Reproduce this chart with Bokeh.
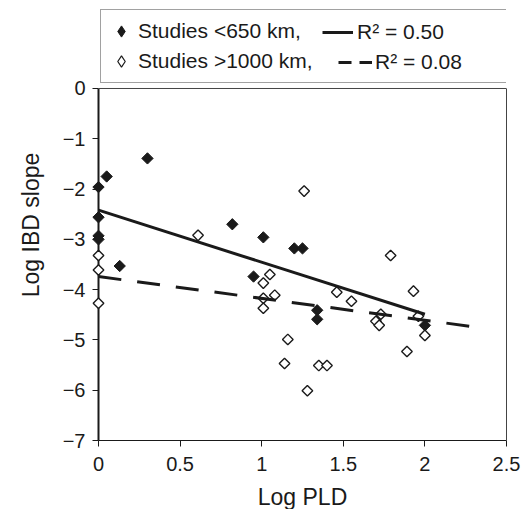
import math
from bokeh.plotting import figure
from bokeh.models import (Range1d, FixedTicker, Legend, LegendItem, ColumnDataSource,
                          LinearAxis, Span)
from bokeh.embed import file_html
from bokeh.resources import INLINE

# ---- data ----
x_ticks = [0, 0.5, 1, 1.5, 2, 2.5]
x_tick_labels = ["0", "0.5", "1", "1.5", "2", "2.5"]
y_ticks = [-7, -6, -5, -4, -3, -2, -1, 0]
y_tick_labels = ["\u22127", "\u22126", "\u22125", "\u22124", "\u22123", "\u22122", "\u22121", "0"]

# Studies <650 km (filled diamonds)
near_x = [0.0, 0.05, 0.0, 0.0, 0.0, 0.13, 0.30, 0.82, 1.01, 1.20, 1.25, 0.95, 1.34, 1.34, 2.00]
near_y = [-1.96, -1.75, -2.56, -2.93, -3.00, -3.53, -1.39, -2.70, -2.96, -3.18, -3.18, -3.74, -4.41, -4.59, -4.71]

# Studies >1000 km (open diamonds)
far_x = [0.0, 0.0, 0.0, 0.61, 1.26, 1.05, 1.01, 1.08, 1.01, 1.01, 1.16, 1.14, 1.35, 1.40, 1.28,
         1.46, 1.55, 1.79, 1.93, 1.73, 1.70, 1.72, 1.96, 2.00, 1.89]
far_y = [-3.32, -3.61, -4.27, -2.92, -2.04, -3.70, -3.87, -4.11, -4.17, -4.37, -4.99, -5.47, -5.51, -5.51, -6.01,
         -4.05, -4.23, -3.32, -4.03, -4.49, -4.63, -4.71, -4.53, -4.91, -5.23]

# regression lines (end points)
fit_near_x = [0.0, 2.0]
fit_near_y = [-2.42, -4.49]
fit_far_x = [0.0, 2.28]
fit_far_y = [-3.74, -4.73]

legend_labels = ["Studies <650 km,", "Studies >1000 km,", "R\u00b2 = 0.50", "R\u00b2 = 0.08"]

FONT = "Liberation Sans"
INK = "#1a1a1a"
FRAME = "#444444"

Y_MIN, Y_MAX = y_ticks[0], y_ticks[-1]
# extra room above y=0 inside the frame holds the legend box
Y_TOP = Y_MAX + 1.571

p = figure(frame_width=408, frame_height=431,
           x_range=Range1d(x_ticks[0], x_ticks[-1]), y_range=Range1d(Y_MIN, Y_TOP),
           output_backend="svg", toolbar_location=None,
           min_border_left=98, min_border_right=18, min_border_top=9, min_border_bottom=60)
p.grid.visible = False
p.outline_line_color = None
p.background_fill_color = "white"
p.border_fill_color = "white"

# top border of the plotting area at y = 0
p.add_layout(Span(location=Y_MAX, dimension="width", line_color=FRAME, line_width=1))

far = p.scatter(far_x, far_y, marker="square", angle=math.pi / 4, size=7.5,
                fill_color="white", line_color=INK, line_width=1.4, level="overlay")
near = p.scatter(near_x, near_y, marker="square", angle=math.pi / 4, size=8,
                 fill_color=INK, line_color=INK, line_width=1, level="overlay")
l_near = p.line(fit_near_x, fit_near_y, line_width=3, color=INK, level="overlay")
l_far = p.line(fit_far_x, fit_far_y, line_width=3, color=INK, line_dash="23 16", level="overlay")

# legend-only sample renderers (a single NaN point: nothing is drawn in the plot)
nan_src = ColumnDataSource(data=dict(x=[float("nan")], y=[float("nan")]))
g_near = p.scatter("x", "y", source=nan_src, marker="diamond", size=10,
                   fill_color=INK, line_color=INK, line_width=1)
g_far = p.scatter("x", "y", source=nan_src, marker="diamond", size=10,
                  fill_color="white", line_color=INK, line_width=1.2)
g_dash = p.line("x", "y", source=nan_src, line_width=3, color=INK, line_dash="13 8")

common = dict(label_text_font=FONT, label_text_font_size="21px", label_text_color=INK,
              glyph_height=28, label_height=30, spacing=0, margin=0)

legA = Legend(items=[LegendItem(label=legend_labels[0], renderers=[g_near]),
                     LegendItem(label=legend_labels[1], renderers=[g_far])],
              location=(2, 357), padding=6, glyph_width=28, label_standoff=3, label_width=363,
              border_line_color=FRAME, border_line_width=1,
              background_fill_color="white", background_fill_alpha=1.0, **common)
legB1 = Legend(items=[LegendItem(label=legend_labels[2], renderers=[l_near])],
               location=(224, 393), padding=0, glyph_width=31, label_standoff=4,
               border_line_alpha=0, background_fill_alpha=0, **common)
legB2 = Legend(items=[LegendItem(label=legend_labels[3], renderers=[g_dash])],
               location=(240, 363), padding=0, glyph_width=34, label_standoff=3,
               border_line_alpha=0, background_fill_alpha=0, **common)
p.add_layout(legA)
p.add_layout(legB1)
p.add_layout(legB2)

xa = p.xaxis[0]
ya = p.yaxis[0]
xa.ticker = FixedTicker(ticks=x_ticks)
xa.major_label_overrides = dict(zip(x_ticks, x_tick_labels))
ya.ticker = FixedTicker(ticks=y_ticks)
ya.major_label_overrides = dict(zip(y_ticks, y_tick_labels))
ya.bounds = (Y_MIN, Y_MAX)
xa.axis_label = "Log PLD"
ya.axis_label = "Log IBD slope"
for ax in (xa, ya):
    ax.major_label_text_font = FONT
    ax.major_label_text_font_size = "20px"
    ax.major_label_text_color = INK
    ax.axis_label_text_font = FONT
    ax.axis_label_text_font_size = "23px"
    ax.axis_label_text_font_style = "normal"
    ax.axis_label_text_color = INK
    ax.major_tick_out = 6
    ax.major_tick_in = 0
    ax.major_tick_line_color = INK
    ax.minor_tick_line_color = None
    ax.axis_line_color = INK
ya.axis_line_width = 2
xa.axis_line_width = 1.2
xa.major_label_standoff = 10
xa.axis_label_standoff = 10
ya.major_label_standoff = 7
ya.axis_label_standoff = 16

# right border of the plotting area (from -7 to 0)
right_ax = LinearAxis(ticker=FixedTicker(ticks=[]), bounds=(Y_MIN, Y_MAX),
                      axis_line_color=FRAME, axis_line_width=1,
                      major_tick_line_color=None, minor_tick_line_color=None,
                      major_label_text_color=None)
p.add_layout(right_ax, "right")

open("out.html", "w").write(file_html(p, INLINE, title="Log IBD slope vs Log PLD"))
